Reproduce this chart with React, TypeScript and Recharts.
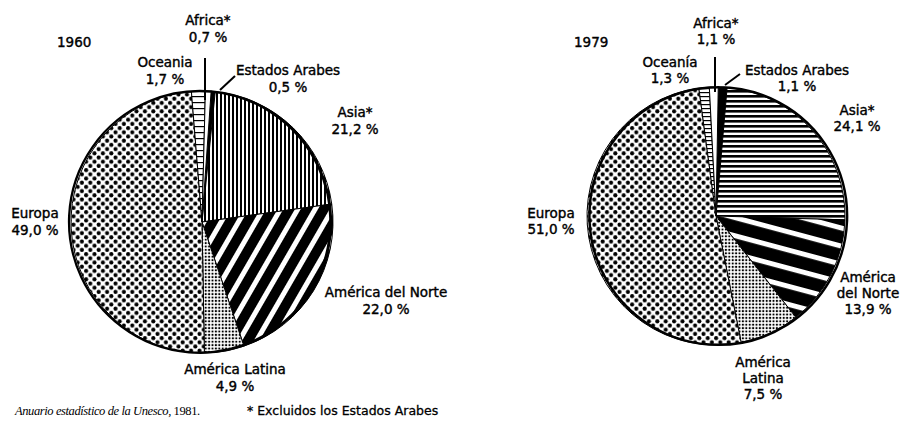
import React from 'react';
import { PieChart, Pie, Cell } from 'recharts';

// ---- data ----
const regions = ['Estados Arabes', 'Asia', 'América del Norte', 'América Latina', 'Europa', 'Oceania', 'Africa'];
const values1960 = [0.5, 21.2, 22.0, 4.9, 49.0, 1.7, 0.7];
const values1979 = [1.1, 24.1, 13.9, 7.5, 51.0, 1.3, 1.1];
const labels1960 = [['Estados Arabes'], ['Asia*'], ['América del Norte'], ['América Latina'], ['Europa'], ['Oceania'], ['Africa*']];
const labels1979 = [['Estados Arabes'], ['Asia*'], ['América', 'del Norte'], ['América', 'Latina'], ['Europa'], ['Oceanía'], ['Africa*']];
const years = ['1960', '1979'];
const sourceNote = 'Anuario estadístico de la Unesco,';
const sourceYear = ' 1981.';
const footNote = '* Excluidos los Estados Arabes';

// ---- styling / layout ----
const FONT = "'DejaVu Sans', sans-serif";
const fills1960 = ['#000', 'url(#asiaV)', 'url(#naSlash)', 'url(#latDots)', 'url(#euroDots)', 'url(#oceH)', '#fff'];
const fills1979 = ['#000', 'url(#asiaH)', 'url(#naShallow)', 'url(#latDots)', 'url(#euroDots)', 'url(#oceH2)', '#fff'];

type Pos = { dx: number; dy: number; lead?: [number, number, number, number] };
const layout1960: Pos[] = [
  { dx: 86, dy: -147, lead: [18, -132, 33, -146] },
  { dx: 153, dy: -105 },
  { dx: 184, dy: 75 },
  { dx: 33, dy: 152 },
  { dx: -167, dy: -4 },
  { dx: -37, dy: -155 },
  { dx: 6, dy: -197, lead: [3, -164, 3, -122] },
];
const layout1979: Pos[] = [
  { dx: 81, dy: -141, lead: [9, -131, 24, -142] },
  { dx: 141, dy: -101 },
  { dx: 152, dy: 66 },
  { dx: 47, dy: 151 },
  { dx: -165, dy: 2 },
  { dx: -46, dy: -149 },
  { dx: 0, dy: -188, lead: [-1, -159, -1, -124] },
];

const fmt = (v: number) => v.toFixed(1).replace('.', ',') + ' %';

const makeLabel = (labels: string[][], values: number[], lay: Pos[], lh: number) => (props: any) => {
  const { cx, cy, index } = props;
  const p = lay[index];
  const lines = [...labels[index], fmt(values[index])];
  const x = cx + p.dx;
  const y0 = cy + p.dy;
  return (
    <g key={'lbl' + index}>
      {p.lead && (
        <line x1={cx + p.lead[0]} y1={cy + p.lead[1]} x2={cx + p.lead[2]} y2={cy + p.lead[3]} stroke="#000" strokeWidth={2} />
      )}
      {lines.map((t, i) => (
        <text key={i} x={x} y={y0 + i * lh} textAnchor="middle" fontFamily={FONT} fontSize={13.5} fill="#000" stroke="#000" strokeWidth={0.4}>
          {t}
        </text>
      ))}
    </g>
  );
};

const mk = (vals: number[]) => regions.map((name, i) => ({ name, value: vals[i] }));
const data1960 = mk(values1960);
const data1979 = mk(values1979);
const ring = [{ name: 'ring', value: 1 }];

const Patterns = () => (
  <svg width={0} height={0} style={{ position: 'absolute' }}>
    <defs>
      <pattern id="euroDots" patternUnits="userSpaceOnUse" width={8.4} height={8.4}>
        <rect width={8.4} height={8.4} fill="#fff" />
        <circle cx={2.1} cy={2.1} r={2.05} fill="#000" />
        <circle cx={6.3} cy={6.3} r={2.05} fill="#000" />
      </pattern>
      <pattern id="latDots" patternUnits="userSpaceOnUse" width={3.4} height={3.4}>
        <rect width={3.4} height={3.4} fill="#fff" />
        <circle cx={1.7} cy={1.7} r={1.1} fill="#000" />
      </pattern>
      <pattern id="asiaV" patternUnits="userSpaceOnUse" width={4} height={4}>
        <rect width={4} height={4} fill="#fff" />
        <rect x={0} width={2} height={4} fill="#000" />
      </pattern>
      <pattern id="asiaH" patternUnits="userSpaceOnUse" width={4} height={5}>
        <rect width={4} height={5} fill="#fff" />
        <rect y={0} width={4} height={2.6} fill="#000" />
      </pattern>
      <pattern id="oceH" patternUnits="userSpaceOnUse" width={4} height={6}>
        <rect width={4} height={6} fill="#fff" />
        <rect y={0} width={4} height={1.2} fill="#000" />
      </pattern>
      <pattern id="oceH2" patternUnits="userSpaceOnUse" width={4} height={4}>
        <rect width={4} height={4} fill="#fff" />
        <rect y={0} width={4} height={1.2} fill="#000" />
      </pattern>
      <pattern id="naSlash" patternUnits="userSpaceOnUse" width={15} height={10} patternTransform="rotate(30)">
        <rect width={15} height={10} fill="#000" />
        <rect x={0} width={5} height={10} fill="#fff" />
      </pattern>
      <pattern id="naShallow" patternUnits="userSpaceOnUse" width={10} height={17.5} patternTransform="rotate(15)">
        <rect width={10} height={17.5} fill="#000" />
        <rect y={0} width={10} height={5} fill="#fff" />
      </pattern>
    </defs>
  </svg>
);

export default function App() {
  const L = { cx: 202, cy: 222, r: 131 };
  const R = { cx: 716, cy: 216, r: 129 };
  return (
    <div style={{ position: 'absolute', left: 0, top: 0, width: 906, height: 423, background: '#fff' }}>
      <Patterns />
      <PieChart width={906} height={423} margin={{ top: 0, right: 0, bottom: 0, left: 0 }}>
        <Pie
          data={data1960}
          dataKey="value"
          nameKey="name"
          cx={L.cx}
          cy={L.cy}
          outerRadius={L.r}
          startAngle={86}
          endAngle={-274}
          stroke="#000"
          strokeWidth={1}
          isAnimationActive={false}
          labelLine={false}
          label={makeLabel(labels1960, values1960, layout1960, 17)}
        >
          {data1960.map((d, i) => (
            <Cell key={d.name} fill={fills1960[i]} />
          ))}
        </Pie>
        <Pie
          data={ring}
          dataKey="value"
          cx={L.cx}
          cy={L.cy}
          innerRadius={L.r - 0.3}
          outerRadius={L.r}
          startAngle={86}
          endAngle={-274}
          fill="none"
          stroke="#000"
          strokeWidth={2.2}
          isAnimationActive={false}
        />
        <Pie
          data={data1979}
          dataKey="value"
          nameKey="name"
          cx={R.cx}
          cy={R.cy}
          outerRadius={R.r}
          startAngle={89}
          endAngle={-271}
          stroke="#000"
          strokeWidth={1}
          isAnimationActive={false}
          labelLine={false}
          label={makeLabel(labels1979, values1979, layout1979, 16)}
        >
          {data1979.map((d, i) => (
            <Cell key={d.name} fill={fills1979[i]} />
          ))}
        </Pie>
        <Pie
          data={ring}
          dataKey="value"
          cx={R.cx}
          cy={R.cy}
          innerRadius={R.r - 0.3}
          outerRadius={R.r}
          startAngle={89}
          endAngle={-271}
          fill="none"
          stroke="#000"
          strokeWidth={2.2}
          isAnimationActive={false}
        />
      </PieChart>
      <svg width={906} height={423} style={{ position: 'absolute', left: 0, top: 0, pointerEvents: 'none' }}>
        <text x={57} y={47} fontFamily={FONT} fontSize={13.5} fill="#000" stroke="#000" strokeWidth={0.4}>{years[0]}</text>
        <text x={574} y={47} fontFamily={FONT} fontSize={13.5} fill="#000" stroke="#000" strokeWidth={0.4}>{years[1]}</text>
        <text x={15} y={415} fontFamily="'Liberation Serif', serif" fontSize={12.5} letterSpacing={-0.4} fill="#000">
          <tspan fontStyle="italic">{sourceNote}</tspan>
          <tspan>{sourceYear}</tspan>
        </text>
        <text x={247} y={415} fontFamily={FONT} fontSize={12.5} fill="#000" stroke="#000" strokeWidth={0.3}>{footNote}</text>
      </svg>
    </div>
  );
}
